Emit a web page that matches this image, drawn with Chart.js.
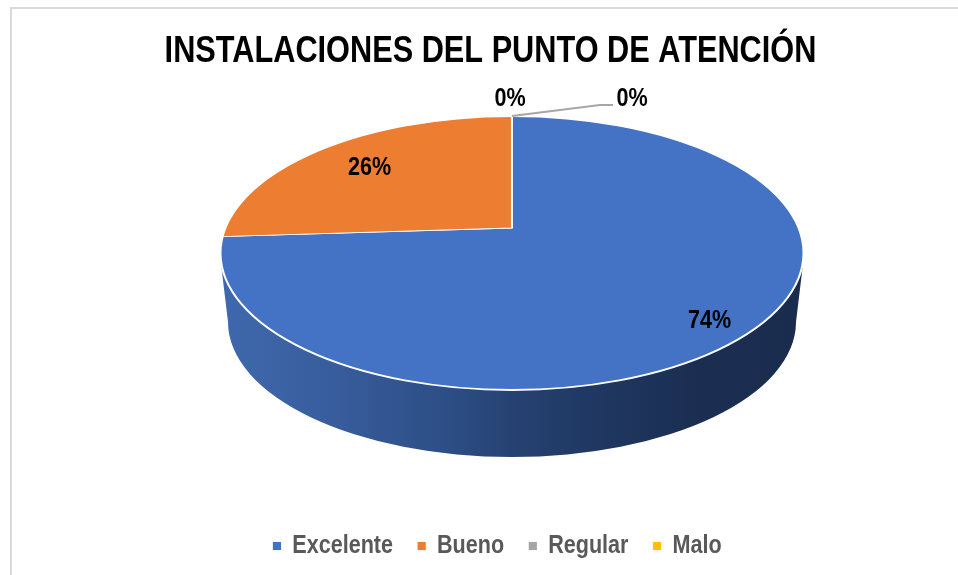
<!DOCTYPE html>
<html>
<head>
<meta charset="utf-8">
<title>Instalaciones del punto de atención</title>
<script src="https://cdn.jsdelivr.net/npm/chart.js@4"></script>
<style>
  html, body { margin: 0; padding: 0; background: #fff; overflow: hidden; }
  #wrap { position: relative; width: 958px; height: 575px; }
  #frame { position: absolute; left: 10px; top: 7px; right: 0; bottom: 0; border-left: 2px solid #d9d9d9; border-top: 2px solid #d9d9d9; }
  canvas { position: absolute; left: 0; top: 0; }
</style>
</head>
<body>
<div id="wrap">
  <div id="frame"></div>
  <canvas id="pie" width="958" height="575"></canvas>
</div>
<script>
const categories = ['Excelente', 'Bueno', 'Regular', 'Malo'];
const percent = [74, 26, 0, 0];
const colors = ['#4472c4', '#ed7d31', '#a5a5a5', '#ffc000'];

const chartTitle = 'INSTALACIONES DEL PUNTO DE ATENCIÓN';
const font = '"Liberation Sans", Arial, sans-serif';
// no narrow face installed, so text is squeezed sideways to look like Arial Narrow
const squeeze = 0.83;

// how the flat pie is laid down: top face, its tilted apex, and the wall below
const face = { x: 512, y: 253, rx: 291.5, ry: 137 };
const apex = { x: 512, y: 228 };
const wall = { y: 322, rx: 284, ry: 135, topY: 268 };
const overscan = 1.45;

// where each % label goes: along the slice (fraction of radius) or next to the pie top
const labelSpots = [
  { along: 0.93, dy: 4 },
  { along: 0.67, dy: 1 },
  { dx: -2, dy: -19 },
  { dx: 120, dy: -19 }
];
const leader = [[0, 0], [88, -11], [101, -11]];

function squeezeBox(box) {
  const draw = box.draw;
  box.draw = function (area) {
    const ctx = this.ctx;
    const mid = (this.left + this.right) / 2;
    ctx.save();
    ctx.translate(mid, 0);
    ctx.scale(squeeze, 1);
    ctx.translate(-mid, 0);
    draw.call(this, area);
    ctx.restore();
  };
}

const tiltedPie = {
  id: 'tiltedPie',
  afterLayout(chart) {
    // legend sits a little right of the title in the original
    chart.legend.left += 6.5;
    chart.legend.right += 6.5;
    squeezeBox(chart.legend);
    squeezeBox(chart.titleBlock);
  },
  beforeDatasetsDraw(chart) {
    const ctx = chart.ctx;
    const arc = chart.getDatasetMeta(0).data[0];

    // side wall
    const grad = ctx.createLinearGradient(face.x - face.rx, 0, face.x + face.rx, 0);
    grad.addColorStop(0, '#3f69ad');
    grad.addColorStop(0.2, '#385c9c');
    grad.addColorStop(0.4, '#2c4d84');
    grad.addColorStop(0.5, '#264272');
    grad.addColorStop(0.65, '#1f3761');
    grad.addColorStop(0.82, '#1b2e51');
    grad.addColorStop(1, '#1a2c4e');
    ctx.save();
    ctx.beginPath();
    ctx.moveTo(face.x - face.rx + 1, wall.topY);
    ctx.lineTo(face.x - wall.rx, wall.y);
    ctx.ellipse(face.x, wall.y, wall.rx, wall.ry, 0, Math.PI, 0, true);
    ctx.lineTo(face.x + face.rx - 1, wall.topY);
    ctx.closePath();
    ctx.fillStyle = grad;
    ctx.fill();
    ctx.restore();

    // slices get drawn around the apex, cut off by the face ellipse
    ctx.save();
    ctx.beginPath();
    ctx.ellipse(face.x, face.y, face.rx, face.ry, 0, 0, Math.PI * 2);
    ctx.clip();
    ctx.translate(apex.x, apex.y);
    ctx.scale(face.rx * overscan / arc.outerRadius, face.ry * overscan / arc.outerRadius);
    ctx.translate(-arc.x, -arc.y);
  },
  afterDatasetsDraw(chart) {
    const ctx = chart.ctx;
    ctx.restore();

    ctx.save();
    ctx.beginPath();
    ctx.ellipse(face.x, face.y, face.rx, face.ry, 0, 0, Math.PI * 2);
    ctx.strokeStyle = '#fff';
    ctx.lineWidth = 2;
    ctx.stroke();

    // leader line of the last label
    const top = { x: apex.x, y: face.y - face.ry };
    ctx.beginPath();
    leader.forEach(([dx, dy], i) => {
      if (i === 0) ctx.moveTo(top.x + dx, top.y + dy);
      else ctx.lineTo(top.x + dx, top.y + dy);
    });
    ctx.strokeStyle = '#a6a6a6';
    ctx.lineWidth = 2;
    ctx.stroke();

    // % labels
    ctx.font = 'bold 26px ' + font;
    ctx.fillStyle = '#000';
    ctx.textAlign = 'center';
    ctx.textBaseline = 'middle';
    chart.getDatasetMeta(0).data.forEach((arc, i) => {
      const spot = labelSpots[i];
      let x, y;
      if (spot.along !== undefined) {
        const mid = (arc.startAngle + arc.endAngle) / 2;
        x = apex.x + Math.cos(mid) * face.rx * spot.along;
        y = apex.y + Math.sin(mid) * face.ry * spot.along + spot.dy;
      } else {
        x = top.x + spot.dx;
        y = top.y + spot.dy;
      }
      ctx.save();
      ctx.translate(x, y + 2);
      ctx.scale(squeeze, 1);
      ctx.fillText(percent[i] + '%', 0, 0);
      ctx.restore();
    });
    ctx.restore();
  }
};

new Chart(document.getElementById('pie'), {
  type: 'pie',
  data: {
    labels: categories,
    datasets: [{
      data: percent,
      backgroundColor: colors,
      borderColor: '#fff',
      borderWidth: 1
    }]
  },
  plugins: [tiltedPie],
  options: {
    responsive: false,
    animation: false,
    layout: { padding: { left: 23, bottom: 6 } },
    plugins: {
      tooltip: { enabled: false },
      title: {
        display: true,
        text: chartTitle,
        color: '#000',
        font: { family: font, size: 37, weight: 'bold' },
        padding: { top: 30, bottom: 20 }
      },
      legend: {
        position: 'bottom',
        labels: {
          color: '#595959',
          font: { family: font, size: 26, weight: 'bold' },
          boxWidth: 11,
          boxHeight: 9,
          padding: 29
        }
      }
    }
  }
});
</script>
</body>
</html>
